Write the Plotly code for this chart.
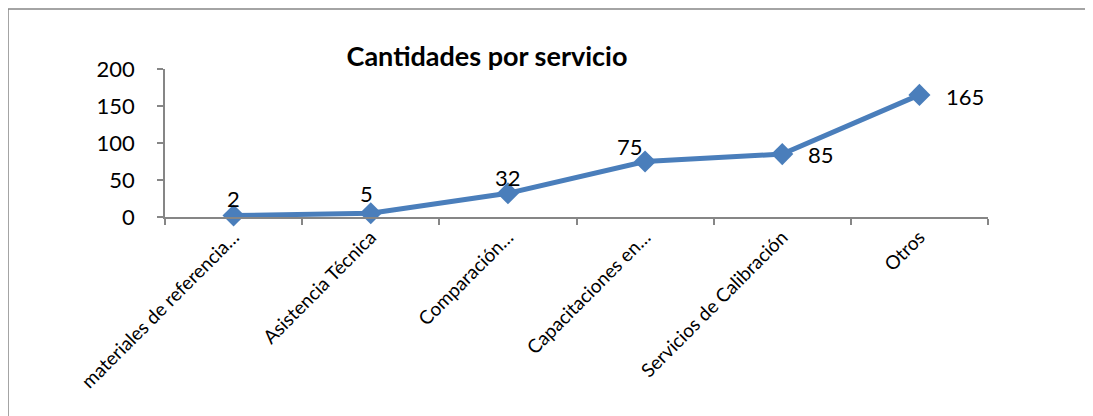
import plotly.graph_objects as go

categories = ["materiales de referencia…", "Asistencia Técnica", "Comparación…",
              "Capacitaciones en…", "Servicios de Calibración", "Otros"]
values = [2, 5, 32, 75, 85, 165]
label_dx = [0, -4, 0, -15, 39, 46]
label_dy = [17, 20, 16, 15, 0, -2]
y_ticks = [0, 50, 100, 150, 200]

FONT = "Lato"
BLUE = "#4A7EBB"
GRAY = "#868686"

fig = go.Figure()
fig.add_trace(go.Scatter(
    x=categories, y=values, mode="lines+markers",
    line=dict(color=BLUE, width=5),
    marker=dict(symbol="diamond", size=17, color=BLUE),
    cliponaxis=False, showlegend=False,
))

for c, v, dx, dy in zip(categories, values, label_dx, label_dy):
    fig.add_annotation(x=c, y=v, text=str(v), showarrow=False,
                       xshift=dx, yshift=dy, xanchor="center", yanchor="middle",
                       font=dict(family=FONT, size=22, color="black"))

# page body has an 8px margin; figure coordinates are offset by it
W, H = 1085, 408
L, R, T, B = 157, 105, 61, 199
pw, ph = W - L - R, H - T - B

fig.update_layout(
    width=W, height=H,
    margin=dict(l=L, r=R, t=T, b=B, pad=0),
    paper_bgcolor="white", plot_bgcolor="white",
    title=dict(text="<b>Cantidades por servicio</b>", x=479 / W, xanchor="center",
               y=1 - 49 / H, yanchor="middle",
               font=dict(family=FONT, size=27, color="black")),
    xaxis=dict(type="category", range=[-0.5, len(categories) - 0.5],
               showline=True, linecolor=GRAY, linewidth=1.5,
               ticks="outside", tickson="boundaries", ticklen=6, tickcolor=GRAY,
               tickwidth=1.5, tickangle=-45, showgrid=False, zeroline=False,
               tickfont=dict(family=FONT, size=19, color="black")),
    yaxis=dict(range=[0, 200], tickvals=y_ticks, showline=True, linecolor=GRAY,
               linewidth=1.5, ticks="outside", ticklen=6, tickcolor=GRAY,
               tickwidth=1.5, showgrid=False, zeroline=False,
               ticklabelstandoff=18,
               tickfont=dict(family=FONT, size=22, color="black")),
    shapes=[dict(type="rect", xref="paper", yref="paper",
                 x0=(0 - L) / pw, x1=(W + 30 - L) / pw,
                 y0=(H - B - (H + 30)) / ph, y1=(H - B - 1) / ph,
                 line=dict(color=GRAY, width=1.5), layer="below")],
)

fig.write_html("out.html")
